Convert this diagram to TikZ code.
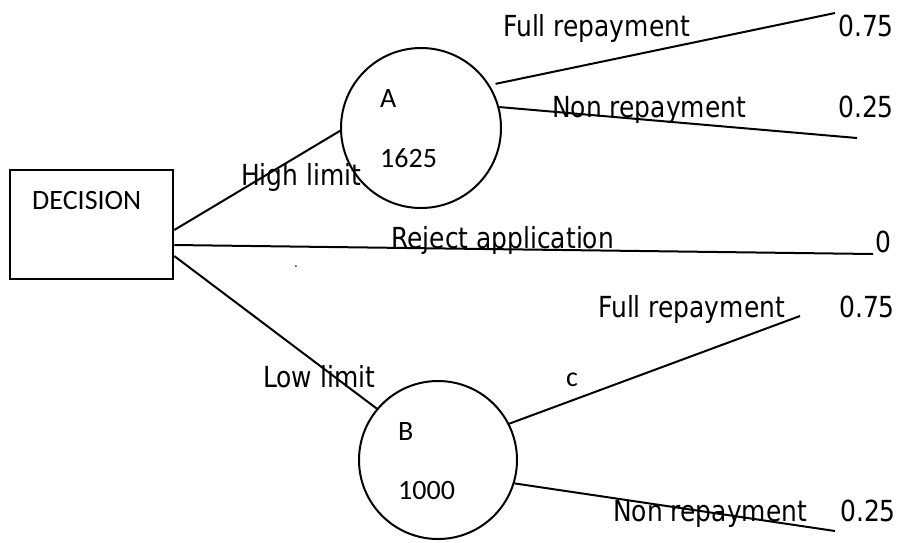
\documentclass[tikz,border=0pt]{standalone}
\usepackage{fontspec}
\newfontfamily\branchfont{DejaVu Sans}[FakeStretch=0.86]
\newfontfamily\nodefont{Carlito}
\usetikzlibrary{calc}

\tikzset{
  branch/.style={line width=2pt, black},
  decbox/.style={draw, rectangle, line width=2.5pt, inner sep=0pt,
                 minimum width=163pt, minimum height=109pt},
  chance/.style={draw, circle, line width=2pt, inner sep=0pt},
  btext/.style={anchor=base west, inner sep=0pt,
                font=\branchfont\fontsize{29}{31}\selectfont},
  ntext/.style={anchor=base west, inner sep=0pt,
                font=\nodefont\fontsize{28}{30}\selectfont},
}

\begin{document}
\begin{tikzpicture}[x=1pt, y=-1pt]
  \useasboundingbox (0,0) rectangle (901,542);

  % decision box and chance nodes
  \node[decbox] (dec) at (91.5,224.5) {};
  \node[chance, minimum size=160pt] (cA) at (421,128) {};
  \node[chance, minimum size=158pt] (cB) at (438,460) {};

  % texts inside the nodes
  \node[ntext] (declbl) at (32,209) {DECISION};
  \node[ntext] (albl) at (380,107) {A};
  \node[ntext] (aval) at (380,167) {1625};
  \node[ntext] (blbl) at (398,440) {B};
  \node[ntext] (bval) at (398,499) {1000};

  % free ends of the branches
  \coordinate (endAfull) at (835,13);
  \coordinate (endAnon)  at (857,138);
  \coordinate (endRej)   at (873,254);
  \coordinate (endBfull) at (800,316);
  \coordinate (endBnon)  at (835,531);

  % branches from the decision
  \draw[branch] ([yshift=-5.5pt]dec.east) -- (cA.182);
  \draw[branch] ([yshift=-20.5pt]dec.east) -- (endRej);
  \draw[branch] ([yshift=-31.5pt]dec.east) -- (cB.140);

  % outcome branches
  \draw[branch, shorten <=6pt] (cA.32) -- (endAfull);
  \draw[branch] (cA.15) -- (endAnon);
  \draw[branch] (cB.27) -- (endBfull);
  \draw[branch] (cB.-17) -- (endBnon);

  % branch labels
  \node[btext] (hl)   at (241,185) {High limit};
  \node[btext] (ll)   at (263,387) {Low limit};
  \node[btext] (rej)  at (391,248) {Reject application};
  \node[btext] (rejv) at (875,252) {0};
  \node[btext] (afl)  at (503,36)  {Full repayment};
  \node[btext] (afv)  at (838,36)  {0.75};
  \node[btext] (anl)  at (552,117) {Non repayment};
  \node[btext] (anv)  at (838,117) {0.25};
  \node[btext] (bfl)  at (598,317) {Full repayment};
  \node[btext] (bfv)  at (839,317) {0.75};
  \node[btext] (bnl)  at (613,521) {Non repayment};
  \node[btext] (bnv)  at (840,521) {0.25};
  \node[ntext] (clbl) at (566,386) {c};
  \node[anchor=base west, inner sep=0pt, font=\branchfont\fontsize{14}{15}\selectfont] (dot) at (294,267) {.};
\end{tikzpicture}
\end{document}
